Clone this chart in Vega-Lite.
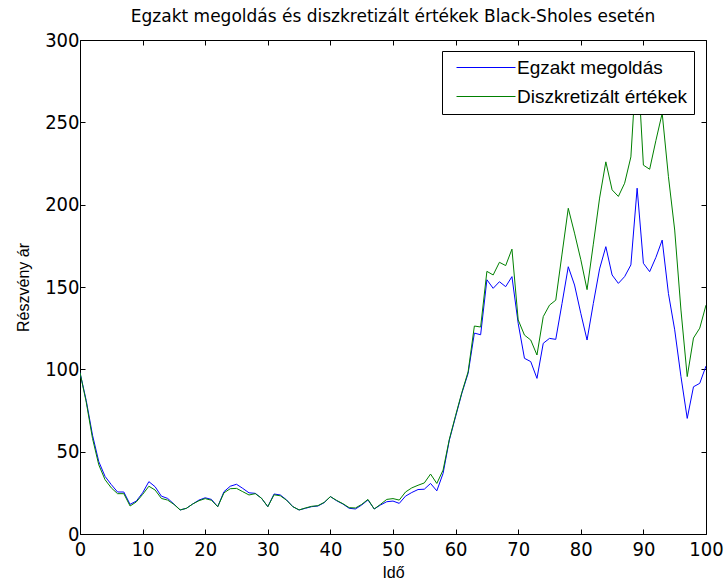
{
  "$schema": "https://vega.github.io/schema/vega-lite/v6.json",
  "width": 626,
  "height": 494,
  "autosize": "none",
  "padding": {"left": 80, "top": 40, "right": 18, "bottom": 52},
  "background": "white",
  "title": {
    "text": "Egzakt megoldás és diszkretizált értékek Black-Sholes esetén",
    "font": "DejaVu Sans",
    "fontSize": 17,
    "fontWeight": "normal",
    "color": "#000",
    "baseline": "alphabetic",
    "frame": "group",
    "offset": 16,
    "dy": 25,
    "anchor": "middle"
  },
  "config": {
    "view": {"stroke": null},
    "axis": {
      "grid": false,
      "domainColor": "#000",
      "tickColor": "#000",
      "labelColor": "#000",
      "titleColor": "#000",
      "labelFont": "Liberation Sans Narrow, DejaVu Sans Condensed, sans-serif",
      "labelFontSize": 20,
      "titleFont": "Liberation Sans",
      "titleFontSize": 16,
      "titleFontWeight": "normal"
    }
  },
  "data": {
    "values": [
      {"t":0,"a":98,"b":98},{"t":1,"a":81,"b":80},{"t":2,"a":60,"b":58},{"t":3,"a":44,"b":42},{"t":4,"a":35,"b":33},
      {"t":5,"a":30,"b":28},{"t":6,"a":25.5,"b":24.5},{"t":7,"a":25.5,"b":24.5},{"t":8,"a":18,"b":17},{"t":9,"a":20,"b":19.5},
      {"t":10,"a":25,"b":24},{"t":11,"a":31.8,"b":29},{"t":12,"a":28.7,"b":26.7},{"t":13,"a":23,"b":21.6},{"t":14,"a":21.6,"b":20.6},
      {"t":15,"a":18.2,"b":18},{"t":16,"a":14.6,"b":14.6},{"t":17,"a":15.6,"b":15.6},{"t":18,"a":18.2,"b":18.2},{"t":19,"a":20.6,"b":20.2},
      {"t":20,"a":22,"b":21.5},{"t":21,"a":21,"b":20.5},{"t":22,"a":16.6,"b":16.6},{"t":23,"a":25.7,"b":25},{"t":24,"a":29,"b":27.5},
      {"t":25,"a":30.2,"b":27.7},{"t":26,"a":27.7,"b":25.7},{"t":27,"a":25,"b":23.7},{"t":28,"a":24.7,"b":24.5},{"t":29,"a":21.7,"b":21.7},
      {"t":30,"a":16.6,"b":16.6},{"t":31,"a":24.3,"b":23.8},{"t":32,"a":23.7,"b":23.2},{"t":33,"a":20.7,"b":20.5},{"t":34,"a":16.6,"b":16.6},
      {"t":35,"a":14.6,"b":14.6},{"t":36,"a":15.6,"b":15.8},{"t":37,"a":16.6,"b":16.8},{"t":38,"a":17,"b":17.2},{"t":39,"a":19,"b":19.2},
      {"t":40,"a":22.7,"b":22.7},{"t":41,"a":20.2,"b":20.4},{"t":42,"a":18.2,"b":18.4},{"t":43,"a":15.6,"b":16},{"t":44,"a":15.2,"b":15.8},
      {"t":45,"a":17.6,"b":18},{"t":46,"a":20.7,"b":21},{"t":47,"a":15.2,"b":15.2},{"t":48,"a":17.6,"b":18},{"t":49,"a":19.6,"b":21},
      {"t":50,"a":20,"b":21.5},{"t":51,"a":18.6,"b":20.6},{"t":52,"a":23,"b":25.5},{"t":53,"a":25.2,"b":28},{"t":54,"a":27,"b":29.6},
      {"t":55,"a":27.2,"b":31},{"t":56,"a":30.7,"b":36.4},{"t":57,"a":26.2,"b":30.7},{"t":58,"a":36.8,"b":38.8},{"t":59,"a":57,"b":57.5},
      {"t":60,"a":71.3,"b":72},{"t":61,"a":85.5,"b":86},{"t":62,"a":97.6,"b":98.5},{"t":63,"a":122,"b":126.3},{"t":64,"a":121,"b":125.7},
      {"t":65,"a":154.4,"b":159.5},{"t":66,"a":149.2,"b":157.3},{"t":67,"a":153.2,"b":165},{"t":68,"a":150.2,"b":163},{"t":69,"a":156.3,"b":173},
      {"t":70,"a":127.9,"b":130},{"t":71,"a":106.7,"b":120.8},{"t":72,"a":104.7,"b":117.8},{"t":73,"a":94.5,"b":108.7},{"t":74,"a":115.8,"b":132},
      {"t":75,"a":118.8,"b":139},{"t":76,"a":118.2,"b":142},{"t":77,"a":140,"b":170},{"t":78,"a":162.3,"b":197.8},{"t":79,"a":151.2,"b":182.7},
      {"t":80,"a":134,"b":166.6},{"t":81,"a":117.8,"b":148.4},{"t":82,"a":140,"b":176},{"t":83,"a":161,"b":204},{"t":84,"a":174.5,"b":226},
      {"t":85,"a":157.3,"b":209},{"t":86,"a":152.2,"b":205},{"t":87,"a":156.3,"b":213},{"t":88,"a":163.4,"b":229},{"t":89,"a":210,"b":292},
      {"t":90,"a":164.4,"b":224},{"t":91,"a":159.3,"b":221.5},{"t":92,"a":168,"b":239},{"t":93,"a":178.5,"b":255.5},{"t":94,"a":146,"b":217},
      {"t":95,"a":124,"b":184.6},{"t":96,"a":95.6,"b":136},{"t":97,"a":70.2,"b":95.6},{"t":98,"a":89.4,"b":119},{"t":99,"a":91.5,"b":125},
      {"t":100,"a":102,"b":139}
    ]
  },
  "transform": [
    {"fold": ["a", "b"], "as": ["k", "v"]},
    {"lookup": "k", "from": {"data": {"values": [{"k": "a", "s": "Egzakt megoldás"}, {"k": "b", "s": "Diszkretizált értékek"}]}, "key": "k", "fields": ["s"]}}
  ],
  "layer": [
    {
      "mark": {"type": "line", "strokeWidth": 1, "clip": true},
      "encoding": {
        "x": {"field": "t", "type": "quantitative", "scale": {"domain": [0, 100], "nice": false, "zero": false},
          "axis": {"values": [0,10,20,30,40,50,60,70,80,90,100], "tickSize": -5, "labelPadding": 10, "title": "Idő", "titlePadding": 5, "labelFlush": false}},
        "y": {"field": "v", "type": "quantitative", "scale": {"domain": [0, 300], "nice": false},
          "axis": {"values": [0,50,100,150,200,250,300], "tickSize": -5, "labelPadding": 6, "title": "Részvény ár", "titlePadding": 13, "labelFlush": false}},
        "color": {"field": "s", "type": "nominal",
          "scale": {"domain": ["Egzakt megoldás", "Diszkretizált értékek"], "range": ["#0000ff", "#008000"]},
          "legend": {
            "title": null,
            "orient": "none",
            "legendX": 362,
            "legendY": 11,
            "direction": "vertical",
            "fillColor": "white",
            "strokeColor": "#000",
            "padding": 7,
            "symbolType": "M-0.33,0H9.5",
            "symbolSize": 144,
            "symbolStrokeWidth": 1.2,
            "labelFont": "Liberation Sans",
            "labelFontSize": 19,
            "labelColor": "#000",
            "labelOffset": 49,
            "labelLimit": 400,
            "rowPadding": 9
          }
        }
      }
    },
    {
      "mark": {"type": "line", "opacity": 0},
      "encoding": {
        "x": {"field": "t", "type": "quantitative", "scale": {"domain": [0, 100], "nice": false, "zero": false},
          "axis": {"orient": "top", "values": [0,10,20,30,40,50,60,70,80,90,100], "tickSize": -5, "labels": false, "title": null}},
        "y": {"field": "v", "type": "quantitative", "scale": {"domain": [0, 300], "nice": false},
          "axis": {"orient": "right", "values": [0,50,100,150,200,250,300], "tickSize": -5, "labels": false, "title": null}}
      }
    }
  ],
  "resolve": {"axis": {"x": "independent", "y": "independent"}}
}
